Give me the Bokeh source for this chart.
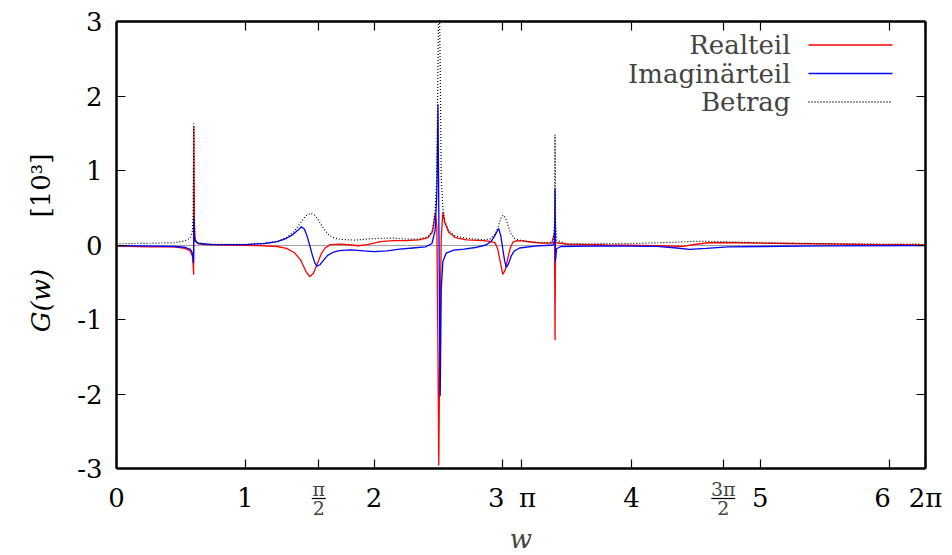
import numpy as np
from bokeh.plotting import figure
from bokeh.models import Range1d, FixedTicker, LinearAxis, Label, Arrow, BoxAnnotation
from bokeh.core.properties import value
from bokeh.embed import file_html
from bokeh.resources import INLINE

PI = np.pi

# Realteil (red)
re_w = [0.00, 0.26, 0.45, 0.53, 0.57, 0.59, 0.596, 0.599, 0.601, 0.604, 0.61, 0.63, 0.70, 0.90,
        1.10, 1.25, 1.32, 1.38, 1.43, 1.47, 1.50, 1.53, 1.56, 1.59, 1.62, 1.66, 1.74, 1.82, 1.88, 1.95,
        2.05, 2.15, 2.25, 2.35, 2.42, 2.455, 2.475, 2.488, 2.497, 2.503, 2.510, 2.522, 2.535,
        2.55, 2.58, 2.63, 2.72, 2.85, 2.90, 2.94, 2.96, 2.98, 3.00, 3.02, 3.04, 3.06, 3.08, 3.11,
        3.15, 3.22, 3.30, 3.38, 3.402, 3.406, 3.409, 3.42, 3.50, 3.80, 4.20, 4.40, 4.50, 4.60,
        4.80, 5.20, 5.80, 6.2832]
re_v = [-0.015, -0.025, -0.025, -0.045, -0.075, -0.15, -0.28, -0.40, 1.59, 0.30, 0.06, 0.02, 0.005, 0.0,
        -0.008, -0.02, -0.045, -0.10, -0.20, -0.35, -0.426, -0.38, -0.25, -0.12, -0.04, 0.005, 0.012, 0.0, -0.01, 0.005,
        0.045, 0.06, 0.06, 0.07, 0.10, 0.18, 0.42, 0.25, -1.5, -2.96, -1.5, 0.1, 0.44,
        0.30, 0.17, 0.10, 0.07, 0.06, 0.05, 0.03, -0.05, -0.22, -0.395, -0.33, -0.17, -0.03, 0.04, 0.06,
        0.055, 0.04, 0.025, 0.025, 0.16, -1.28, 0.04, 0.03, 0.01, 0.0, -0.01, -0.018, 0.01, 0.03,
        0.03, 0.02, 0.008, 0.003]

# Imaginaerteil (blue)
im_w = [0.00, 0.30, 0.45, 0.53, 0.575, 0.592, 0.598, 0.601, 0.604, 0.612, 0.64, 0.75, 1.00,
        1.15, 1.25, 1.32, 1.37, 1.41, 1.436, 1.46, 1.48, 1.50, 1.52, 1.54, 1.557, 1.58, 1.61,
        1.64, 1.68, 1.73, 1.82, 1.92,
        2.00, 2.10, 2.20, 2.30, 2.40, 2.45, 2.475, 2.488, 2.497, 2.505, 2.514, 2.522, 2.535,
        2.56, 2.62, 2.70, 2.80, 2.87, 2.91, 2.94, 2.968, 2.985, 3.00, 3.015, 3.028, 3.045, 3.065,
        3.09, 3.13, 3.25, 3.39, 3.403, 3.406, 3.409, 3.418, 3.45, 3.80, 4.20, 4.35, 4.45, 4.58,
        4.75, 5.50, 6.2832]
im_v = [-0.008, -0.015, -0.02, -0.03, -0.06, -0.12, -0.24, 0.36, 0.12, 0.05, 0.02, 0.006, 0.006,
        0.02, 0.045, 0.09, 0.14, 0.20, 0.246, 0.21, 0.12, 0.0, -0.13, -0.24, -0.283, -0.265, -0.20,
        -0.14, -0.10, -0.075, -0.065, -0.08,
        -0.09, -0.078, -0.055, -0.04, -0.025, 0.02, 0.20, 0.70, 1.89, 0.0, -2.03, -0.6, -0.22,
        -0.11, -0.07, -0.055, -0.03, 0.0, 0.05, 0.13, 0.224, 0.12, -0.05, -0.22, -0.30, -0.25, -0.15,
        -0.08, -0.04, -0.015, 0.0, 0.06, 0.76, -0.22, -0.05, -0.02, -0.012, -0.018, -0.04, -0.06, -0.045,
        -0.025, -0.012, -0.008]

# Betrag (black dotted); the central peak runs off the top of the box
abs_w = [0.00, 0.30, 0.45, 0.53, 0.57, 0.59, 0.596, 0.600, 0.604, 0.61, 0.63, 0.70, 1.00,
         1.15, 1.25, 1.32, 1.38, 1.43, 1.47, 1.506, 1.54, 1.57, 1.60, 1.64, 1.68, 1.74, 1.85,
         1.95, 2.05, 2.15,
         2.25, 2.35, 2.42, 2.455, 2.475, 2.488, 2.496, 2.501, 2.509, 2.514, 2.522, 2.535, 2.55,
         2.58, 2.63, 2.72, 2.85, 2.90, 2.94, 2.965, 2.985, 3.003, 3.02, 3.04, 3.06, 3.09, 3.13,
         3.20, 3.30, 3.39, 3.402, 3.406, 3.410, 3.42, 3.50, 4.00, 4.30, 4.50, 4.70, 5.00, 5.50, 6.2832]
abs_v = [0.015, 0.025, 0.03, 0.055, 0.09, 0.19, 0.45, 1.63, 0.35, 0.08, 0.03, 0.01, 0.008,
         0.022, 0.05, 0.10, 0.18, 0.30, 0.39, 0.427, 0.40, 0.33, 0.24, 0.15, 0.10, 0.075, 0.066,
         0.08, 0.09, 0.092,
         0.08, 0.08, 0.11, 0.20, 0.46, 0.9, 2.3, 3.1, 3.1, 2.4, 0.9, 0.5, 0.32,
         0.19, 0.12, 0.09, 0.07, 0.08, 0.14, 0.25, 0.36, 0.40, 0.37, 0.27, 0.16, 0.09, 0.065,
         0.045, 0.03, 0.035, 0.3, 1.48, 0.3, 0.06, 0.015, 0.02, 0.035, 0.05, 0.045, 0.03, 0.018, 0.01]

x_ticks = [0, 1, PI / 2, 2, 3, PI, 4, 3 * PI / 2, 5, 6, 2 * PI]
x_tick_labels = ["0", "1", "", "2", "3\u2002", "\u2002π", "4", "", "5", "6\u2002", "2π"]
frac_ticks = [PI / 2, 3 * PI / 2]
frac_num = ["π", "3π"]
frac_den = ["2", "2"]
y_ticks = [-3, -2, -1, 0, 1, 2, 3]
y_tick_labels = ["-3", "-2", "-1", "0", "1", "2", "3"]
series_names = ["Realteil", "Imaginärteil", "Betrag"]

X_MIN, X_MAX = 0.0, 2 * PI
Y_MIN, Y_MAX = -3.0, 3.0

FONT = "DejaVu Serif"
FS = "26px"
W, H = 952, 555
BOX_L, BOX_R, BOX_T, BOX_B = 116, 925, 21, 468   # pixel edges of the plot box

ppx = (BOX_R - BOX_L) / (X_MAX - X_MIN)
ppy = (BOX_B - BOX_T) / (Y_MAX - Y_MIN)
xr = Range1d(X_MIN - BOX_L / ppx, X_MAX + (W - BOX_R) / ppx)
yr = Range1d(Y_MIN - (H - BOX_B) / ppy, Y_MAX + BOX_T / ppy)


def y_at(py):
    return Y_MAX - (py - BOX_T) / ppy


def x_at(px):
    return X_MIN + (px - BOX_L) / ppx


p = figure(width=W, height=H, output_backend="svg", toolbar_location=None,
           x_range=xr, y_range=yr, x_axis_location=None, y_axis_location=None,
           min_border=0)
p.grid.visible = False
p.outline_line_color = None
p.background_fill_color = "white"
p.border_fill_color = "white"

# gnuplot-style zero axis (behind the curves)
zero_axis = LinearAxis(fixed_location=0, bounds=(X_MIN, X_MAX), ticker=FixedTicker(ticks=[]),
                       axis_line_color="#a0a0a0", axis_line_width=1.2, level="underlay")
p.add_layout(zero_axis, "below")

p.line(re_w, re_v, color="#ff0000", line_width=1.3)
p.line(im_w, im_v, color="#0000ff", line_width=1.3)
p.line(abs_w, abs_v, color="black", line_width=1.2, line_dash="1 2")

# hide whatever rises above the top of the box (gnuplot clips there)
p.add_layout(BoxAnnotation(bottom=Y_MAX + 1.4 / ppy, top=yr.end + 1.0,
                           left=X_MIN - 0.05, right=X_MAX + 0.05,
                           fill_color="white", fill_alpha=1, line_color=None))


def style_axis(ax):
    ax.major_tick_in = 9
    ax.major_tick_out = 0
    ax.minor_tick_line_color = None
    ax.axis_line_width = 2.5
    ax.major_tick_line_width = 1.2
    ax.major_label_text_font = FONT
    ax.major_label_text_font_size = FS
    ax.major_label_text_color = "black"
    ax.axis_label_text_font = FONT
    ax.axis_label_text_font_size = FS
    ax.axis_label_text_color = "black"


xa = LinearAxis(fixed_location=Y_MIN, bounds=(X_MIN, X_MAX), ticker=FixedTicker(ticks=x_ticks),
                major_label_overrides={t: l for t, l in zip(x_ticks, x_tick_labels)})
style_axis(xa)
xa.major_label_standoff = 14
p.add_layout(xa, "below")

ya = LinearAxis(fixed_location=X_MIN, bounds=(Y_MIN, Y_MAX), ticker=FixedTicker(ticks=y_ticks),
                major_label_overrides={t: l for t, l in zip(y_ticks, y_tick_labels)})
style_axis(ya)
ya.major_label_standoff = 14
p.add_layout(ya, "left")

xt = LinearAxis(fixed_location=Y_MAX, bounds=(X_MIN, X_MAX), ticker=FixedTicker(ticks=x_ticks),
                major_label_overrides={t: "" for t in x_ticks})
style_axis(xt)
xt.major_label_text_font_size = "0px"
p.add_layout(xt, "above")

yt = LinearAxis(fixed_location=X_MAX, bounds=(Y_MIN, Y_MAX), ticker=FixedTicker(ticks=y_ticks),
                major_label_overrides={t: "" for t in y_ticks})
style_axis(yt)
yt.major_label_text_font_size = "0px"
p.add_layout(yt, "right")

# y axis title "G(w) [10^3]" (italic part + upright part)
p.text(x=[x_at(40)], y=[y_at(300)], text=["G(w)"], angle=PI / 2,
       text_font=value(FONT), text_font_size="26px", text_font_style="italic",
       text_align="center", text_baseline="middle", text_color="black")
p.text(x=[x_at(40)], y=[y_at(185)], text=["[10³]"], angle=PI / 2,
       text_font=value(FONT), text_font_size="26px",
       text_align="center", text_baseline="middle", text_color="black")

# x axis title
p.add_layout(Label(x=(X_MIN + X_MAX) / 2, y=H - 538, y_units="screen", text="w",
                   text_font=FONT, text_font_size=FS, text_font_style="italic",
                   text_align="center", text_baseline="middle"))

# fraction tick labels (pi/2, 3pi/2)
for t, n, d in zip(frac_ticks, frac_num, frac_den):
    p.add_layout(Label(x=t, y=H - 488, y_units="screen", text=n, text_font=FONT,
                       text_font_size="19px", text_align="center", text_baseline="middle"))
    p.add_layout(Label(x=t, y=H - 507, y_units="screen", text=d, text_font=FONT,
                       text_font_size="19px", text_align="center", text_baseline="middle"))
    hw = (7 if len(n) == 1 else 12) / ppx
    p.add_layout(BoxAnnotation(left=t - hw, right=t + hw, bottom=H - 498.6, top=H - 497.4,
                               bottom_units="screen", top_units="screen",
                               fill_color="black", fill_alpha=1, line_color=None))

# legend (gnuplot style: text right-aligned, sample to its right)
legend_y = [44.5, 73, 101.5]
legend_col = ["#ff0000", "#0000ff", "black"]
legend_dash = ["solid", "solid", "1 2"]
for name, ly, c, dsh in zip(series_names, legend_y, legend_col, legend_dash):
    p.add_layout(Label(x=790, y=H - ly, x_units="screen", y_units="screen", text=name,
                       text_font=FONT, text_font_size=FS, text_align="right",
                       text_baseline="middle"))
    p.add_layout(Arrow(x_start=808, y_start=H - ly, x_end=892, y_end=H - ly,
                       start_units="screen", end_units="screen", start=None, end=None,
                       line_color=c, line_width=1.3, line_dash=dsh))

open("out.html", "w").write(file_html(p, INLINE))
